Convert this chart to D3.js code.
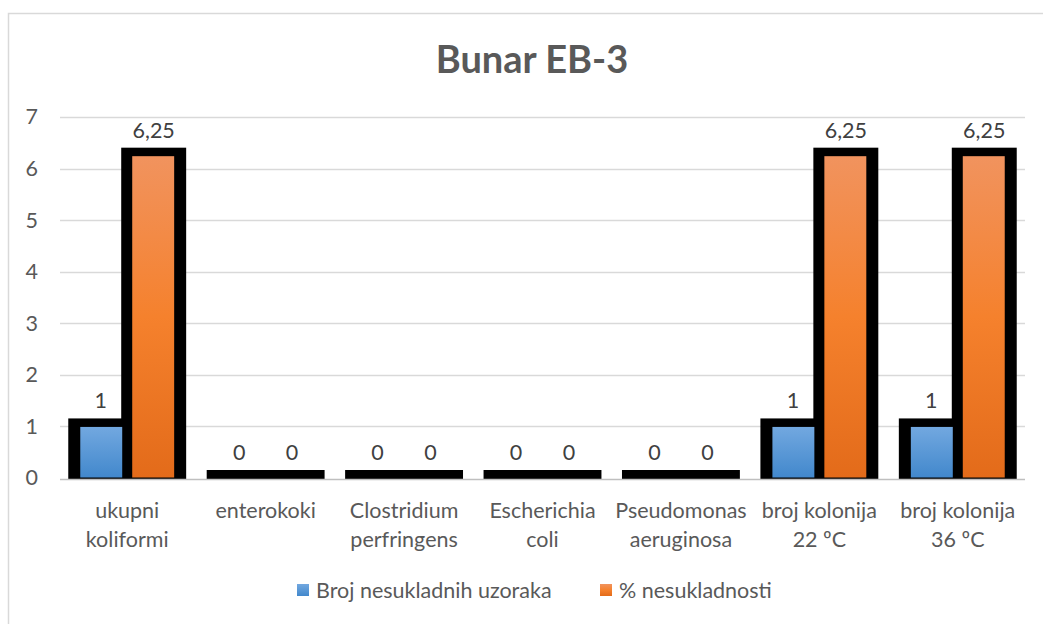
<!DOCTYPE html>
<html>
<head>
<meta charset="utf-8">
<script src="https://cdn.jsdelivr.net/npm/d3@7"></script>
<style>
  html, body { margin: 0; padding: 0; background: #ffffff; }
  svg { display: block; font-family: Lato, "Open Sans", sans-serif; }
</style>
</head>
<body>
<svg id="chart" width="1043" height="624"></svg>
<script>
// Microbiological non-compliance for well EB-3
const categories = [
  ["ukupni", "koliformi"],
  ["enterokoki"],
  ["Clostridium", "perfringens"],
  ["Escherichia", "coli"],
  ["Pseudomonas", "aeruginosa"],
  ["broj kolonija", "22 ºC"],
  ["broj kolonija", "36 ºC"]
];
const seriesNames = ["Broj nesukladnih uzoraka", "% nesukladnosti"];
const brojNesukladnih = [1, 0, 0, 0, 0, 1, 1];
const postoNesukladnosti = [6.25, 0, 0, 0, 0, 6.25, 6.25];
const valueLabels = [
  ["1", "0", "0", "0", "0", "1", "1"],
  ["6,25", "0", "0", "0", "0", "6,25", "6,25"]
];
const yTicks = [0, 1, 2, 3, 4, 5, 6, 7];

const series = [brojNesukladnih, postoNesukladnosti];
const svg = d3.select("#chart");
const FS = 21.5;

// gradients for the two series
const defs = svg.append("defs");
const gradStops = [
  [["0%", "#72a8e0"], ["100%", "#4288cc"]],
  [["0%", "#f1935e"], ["50%", "#f5812d"], ["100%", "#e36b1a"]]
];
gradStops.forEach((stops, i) => {
  const g = defs.append("linearGradient")
    .attr("id", "grad" + i)
    .attr("x1", 0).attr("y1", 0).attr("x2", 0).attr("y2", 1);
  stops.forEach(s => g.append("stop").attr("offset", s[0]).attr("stop-color", s[1]));
});

// chart frame
svg.append("rect")
  .attr("x", 8.5).attr("y", 13.5)
  .attr("width", 1100).attr("height", 700)
  .attr("fill", "#ffffff")
  .attr("stroke", "#d9d9d9").attr("stroke-width", 1.5);

// title
svg.append("text")
  .attr("x", 532).attr("y", 73)
  .attr("text-anchor", "middle")
  .attr("font-size", 38).attr("font-weight", 700)
  .attr("fill", "#595959")
  .text("Bunar EB-3");

const plotLeft = 58, plotRight = 1027;
const y = d3.scaleLinear().domain([0, 7]).range([478, 117]);
const x0 = d3.scaleBand()
  .domain(d3.range(categories.length))
  .range([plotLeft, plotRight])
  .paddingInner(0.235).paddingOuter(0.1175);
const x1 = d3.scaleBand()
  .domain(d3.range(series.length))
  .range([0, x0.bandwidth()]);

// gridlines
svg.append("g")
  .selectAll("line")
  .data(yTicks.filter(t => t > 0))
  .join("line")
  .attr("x1", 60).attr("x2", 1025)
  .attr("y1", d => Math.round(y(d)) + 0.5)
  .attr("y2", d => Math.round(y(d)) + 0.5)
  .attr("stroke", "#d9d9d9").attr("stroke-width", 1.5);

// y axis labels
const yAxis = d3.axisLeft(y).tickValues(yTicks).tickSize(0).tickPadding(0)
  .tickFormat(d3.format("d"));
const yg = svg.append("g").attr("transform", "translate(38,0)").call(yAxis);
yg.select(".domain").remove();
yg.selectAll("text")
  .attr("font-family", "Lato, sans-serif")
  .attr("font-size", FS).attr("fill", "#595959");

// bars: thick black outline behind gradient fill
const groups = svg.append("g")
  .selectAll("g")
  .data(categories.map((c, i) => i))
  .join("g")
  .attr("transform", i => `translate(${x0(i)},0)`);

const barData = i => series.map((s, k) => ({ k, v: s[i], label: valueLabels[k][i] }));

groups.selectAll("rect.outline")
  .data(barData)
  .join("rect")
  .attr("class", "outline")
  .attr("x", d => x1(d.k) - 6)
  .attr("y", d => y(d.v) - 8)
  .attr("width", x1.bandwidth() + 12)
  .attr("height", d => y(0) - y(d.v) + 9)
  .attr("fill", "#000000");

groups.selectAll("rect.fill")
  .data(barData)
  .join("rect")
  .attr("class", "fill")
  .attr("x", d => x1(d.k) + (d.k === 0 ? 6 : 5))
  .attr("y", d => y(d.v) + 0.5)
  .attr("width", x1.bandwidth() - 11)
  .attr("height", d => Math.max(0, y(0) - y(d.v) - 1))
  .attr("fill", d => `url(#grad${d.k})`);

// baseline axis
svg.append("line")
  .attr("x1", 60).attr("x2", 1025)
  .attr("y1", 479.5).attr("y2", 479.5)
  .attr("stroke", "#bfbfbf").attr("stroke-width", 1.5);

// value labels
groups.selectAll("text.val")
  .data(barData)
  .join("text")
  .attr("class", "val")
  .attr("x", d => x1(d.k) + x1.bandwidth() / 2)
  .attr("y", d => y(d.v) - 18)
  .attr("text-anchor", "middle")
  .attr("font-size", FS).attr("fill", "#404040")
  .text(d => d.label);

// category labels
groups.append("text")
  .attr("text-anchor", "middle")
  .attr("font-size", FS).attr("fill", "#595959")
  .selectAll("tspan")
  .data(i => categories[i])
  .join("tspan")
  .attr("x", x0.bandwidth() / 2)
  .attr("y", (d, j) => 518 + j * 29)
  .text(d => d);

// legend
const legendItems = [
  { name: seriesNames[0], x: 297, k: 0 },
  { name: seriesNames[1], x: 600, k: 1 }
];
const lg = svg.append("g").selectAll("g").data(legendItems).join("g")
  .attr("transform", d => `translate(${d.x},0)`);
lg.append("rect")
  .attr("x", 0).attr("y", 584).attr("width", 12).attr("height", 12)
  .attr("fill", d => `url(#grad${d.k})`);
lg.append("text")
  .attr("x", 19).attr("y", 598)
  .attr("font-size", FS).attr("fill", "#595959")
  .text(d => d.name);
</script>
</body>
</html>
